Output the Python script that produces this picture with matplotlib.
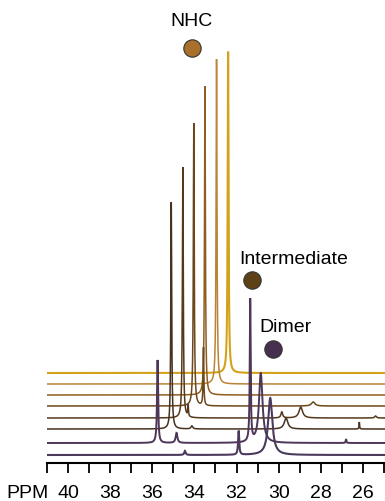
import numpy as np
import matplotlib.pyplot as plt

plt.rcParams['font.family'] = ['Liberation Sans', 'DejaVu Sans']

# peaks of each 31P spectrum, listed bottom trace first: (ppm, height, half-width in ppm)
spec_8 = [(34.45, 4, 0.04), (31.9, 24, 0.03), (30.4, 57, 0.12)]
spec_7 = [(35.75, 83, 0.03), (34.85, 10, 0.05), (31.35, 142, 0.025), (30.85, 70, 0.1), (26.8, 4, 0.02)]
spec_6 = [(35.1, 227, 0.025), (34.12, 3, 0.05), (29.65, 11, 0.1), (26.17, 7, 0.015)]
spec_5 = [(34.55, 251, 0.025), (34.3, 11, 0.02), (29.85, 6, 0.05), (28.95, 11, 0.1), (25.4, 2, 0.05)]
spec_4 = [(34.03, 283, 0.025), (33.57, 58, 0.02), (28.36, 4, 0.1)]
spec_3 = [(33.5, 309, 0.025)]
spec_2 = [(32.95, 325, 0.025)]
spec_1 = [(32.4, 322, 0.025)]

spectra = [spec_8, spec_7, spec_6, spec_5, spec_4, spec_3, spec_2, spec_1]
colors = ['#4b3a5c', '#4d3658', '#47311f', '#55391a', '#6b471b', '#8f5d20', '#b98338', '#d4a21a']
widths = [1.5, 1.4, 1.1, 1.1, 1.1, 1.1, 1.1, 1.5]

ticks = np.arange(25, 42)
tick_labels = [str(t) if t % 2 == 0 else '' for t in ticks]

fig = plt.figure(figsize=(3.85, 5.01), dpi=100)
ax = fig.add_axes([47 / 385, 38 / 501, 338 / 385, 463 / 501])

x = np.linspace(41, 24.95, 6000)
baselines = [8, 20, 34, 45, 57, 68, 79, 90]

# draw top trace first so the lower ones lie over it
for i in reversed(range(len(spectra))):
    y = np.zeros_like(x)
    for p, h, g in spectra[i]:
        y += h * g**2 / ((x - p)**2 + g**2)
    ax.plot(x, y + baselines[i], color=colors[i], lw=widths[i], solid_joinstyle='miter')

# labels with coloured dots
ax.plot(34.12, 415, 'o', ms=12.5, mfc='#a8702a', mec='#333333', mew=0.8)
ax.text(34.12, 441, 'NHC', ha='center', va='center', fontsize=14)
ax.plot(31.27, 183, 'o', ms=12.5, mfc='#5f4118', mec='#333333', mew=0.8)
ax.text(29.28, 203, 'Intermediate', ha='center', va='center', fontsize=14)
ax.plot(30.25, 114, 'o', ms=12.5, mfc='#47304f', mec='#333333', mew=0.8)
ax.text(29.69, 135, 'Dimer', ha='center', va='center', fontsize=14)

ax.set_xlim(41, 24.95)
ax.set_ylim(0, 463)
ax.set_xticks(ticks)
ax.set_xticklabels(tick_labels)
ax.set_yticks([])
for s in ['left', 'top', 'right']:
    ax.spines[s].set_visible(False)
ax.spines['bottom'].set_linewidth(1.5)
ax.tick_params(axis='x', direction='out', length=7, width=1.3, labelsize=14, pad=8.5)

fig.text(6.5 / 385, 1 - 498.3 / 501, 'PPM', ha='left', va='baseline', fontsize=14)

fig.savefig('out.png', dpi=100)
